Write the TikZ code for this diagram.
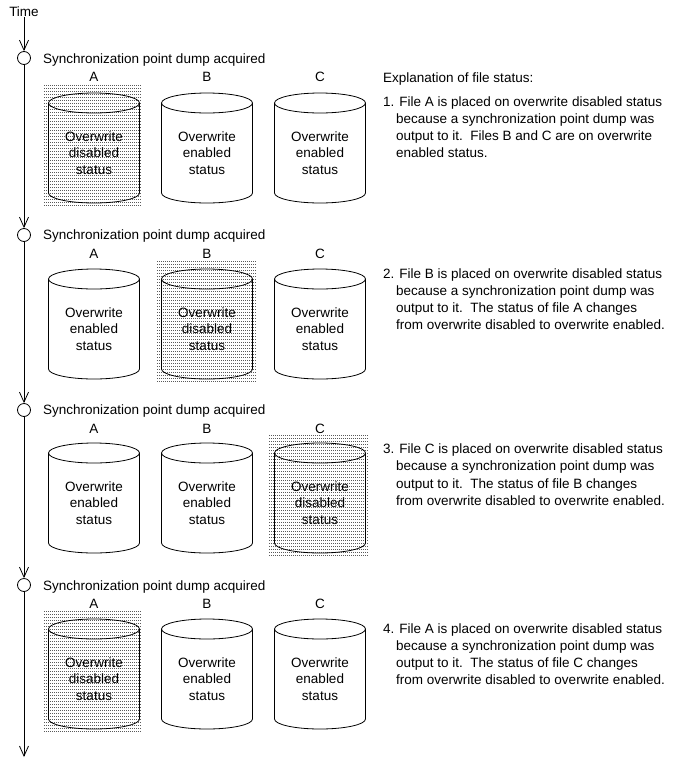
\documentclass[tikz,border=0pt]{standalone}
\usepackage{fontspec}
\setmainfont{Liberation Sans}
\usetikzlibrary{arrows.meta}
\newcommand\mycyl[4]{%
  \draw[cylline] (#1,#2+10) ellipse[x radius=45.5pt, y radius=10pt];
  \draw[cylline] (#1-45.5,#2+10) -- (#1-45.5,#2+100)
     arc[start angle=180,end angle=360,x radius=45.5pt,y radius=10pt] -- (#1+45.5,#2+10);
  \node[cyltxt] (#3) at (#1,#2+60) {Overwrite\\#4\\status};
}
\newcommand\dotbox[4]{%
  \foreach \k in {0,...,40} {\draw[dotrow] (#1,#2+3*\k) -- (#3,#2+3*\k);}
}
\begin{document}
\begin{tikzpicture}[x=1pt,y=-1pt,
  txt/.style={font=\fontsize{13.5}{16.5}\selectfont, inner sep=0pt},
  lbl/.style={txt, anchor=base west},
  abc/.style={txt, anchor=center},
  cyltxt/.style={txt, align=center},
  cylline/.style={draw=black, line width=0.8pt},
  tick/.style={draw, circle, minimum size=13pt, inner sep=0pt, fill=white, line width=0.8pt},
  tline/.style={line width=0.8pt, -{Straight Barb[length=10pt,width=9pt,line width=0.8pt]}},
  dotrow/.style={line width=0.6pt, black!65, dash pattern=on 0.8pt off 1.2pt}
]
\useasboundingbox (0,0) rectangle (678,769);

% timeline
\node[txt] (time) at (24,12) {Time};
\node[tick] (c1) at (24,58) {};
\node[tick] (c2) at (24,235) {};
\node[tick] (c3) at (24,410) {};
\node[tick] (c4) at (24,585) {};
\coordinate (end) at (24,757);
\draw[tline] (time) -- (c1);
\draw[tline] (c1) -- (c2);
\draw[tline] (c2) -- (c3);
\draw[tline] (c3) -- (c4);
\draw[tline] (c4) -- (end);

\node[lbl] (s1) at (43,63) {Synchronization point dump acquired};
\node[lbl] (s2) at (43,239) {Synchronization point dump acquired};
\node[lbl] (s3) at (43,414) {Synchronization point dump acquired};
\node[lbl] (s4) at (43,590) {Synchronization point dump acquired};

% row 1
\node[abc] (a1) at (94,77) {A};
\node[abc] (b1) at (207,77) {B};
\node[abc] (cc1) at (320,77) {C};
\dotbox{44}{85}{141}{205}
\mycyl{94}{93}{ca1}{disabled}
\mycyl{207}{93}{cb1}{enabled}
\mycyl{320}{93}{cc1x}{enabled}

% row 2
\node[abc] (a2) at (94,254) {A};
\node[abc] (b2) at (207,254) {B};
\node[abc] (cc2) at (320,254) {C};
\dotbox{157}{261}{256}{381}
\mycyl{94}{269}{ca2}{enabled}
\mycyl{207}{269}{cb2}{disabled}
\mycyl{320}{269}{cc2x}{enabled}

% row 3
\node[abc] (a3) at (94,429) {A};
\node[abc] (b3) at (207,429) {B};
\node[abc] (cc3) at (320,429) {C};
\dotbox{269}{435}{368}{555}
\mycyl{94}{443}{ca3}{enabled}
\mycyl{207}{443}{cb3}{enabled}
\mycyl{320}{443}{cc3x}{disabled}

% row 4
\node[abc] (a4) at (94,604) {A};
\node[abc] (b4) at (207,604) {B};
\node[abc] (cc4) at (320,604) {C};
\dotbox{44}{611}{141}{731}
\mycyl{94}{619}{ca4}{disabled}
\mycyl{207}{619}{cb4}{enabled}
\mycyl{320}{619}{cc4x}{enabled}

% explanation
\node[lbl] (ex) at (383,82) {Explanation of file status:};
\node[lbl] (e1a) at (383,106) {1. File A is placed on overwrite disabled status};
\node[lbl] (e1b) at (396,123) {because a synchronization point dump was};
\node[lbl] (e1c) at (396,140) {output to it.\ \ Files B and C are on overwrite};
\node[lbl] (e1d) at (396,157) {enabled status.};

\node[lbl] (e2a) at (383,278) {2. File B is placed on overwrite disabled status};
\node[lbl] (e2b) at (396,295) {because a synchronization point dump was};
\node[lbl] (e2c) at (396,312) {output to it.\ \ The status of file A changes};
\node[lbl] (e2d) at (396,329) {from overwrite disabled to overwrite enabled.};

\node[lbl] (e3a) at (383,453) {3. File C is placed on overwrite disabled status};
\node[lbl] (e3b) at (396,470) {because a synchronization point dump was};
\node[lbl] (e3c) at (396,488) {output to it.\ \ The status of file B changes};
\node[lbl] (e3d) at (396,505) {from overwrite disabled to overwrite enabled.};

\node[lbl] (e4a) at (383,633) {4. File A is placed on overwrite disabled status};
\node[lbl] (e4b) at (396,650) {because a synchronization point dump was};
\node[lbl] (e4c) at (396,667) {output to it.\ \ The status of file C changes};
\node[lbl] (e4d) at (396,684) {from overwrite disabled to overwrite enabled.};
\end{tikzpicture}
\end{document}
